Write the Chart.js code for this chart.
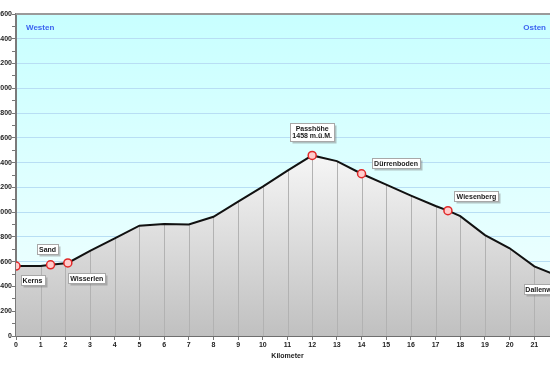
<!DOCTYPE html>
<html><head><meta charset="utf-8">
<script src="https://cdn.jsdelivr.net/npm/chart.js@4/dist/chart.umd.min.js"></script>
<style>
html,body{margin:0;padding:0;overflow:hidden;background:#fff;width:550px;height:372px}
#wrap{position:absolute;left:-20px;top:0;width:600px;height:372px}
</style>
</head><body><div id="wrap"><canvas id="c" width="600" height="372"></canvas></div>
<script>
// ---- data ----
const profileKm   = [0, 1, 1.4, 2.1, 3, 4, 5, 6, 7, 8, 9, 10, 11, 12, 13, 14, 15, 16, 17, 17.5, 18, 19, 20, 21, 22];
const profileElev = [565, 565, 575, 590, 688, 789, 891, 905, 900, 963, 1085, 1206, 1335, 1458, 1412, 1310, 1222, 1134, 1050, 1012, 968, 815, 708, 562, 482];
const waypointNames = [['Kerns'], ['Sand'], ['Wisserlen'], ['Passhöhe', '1458 m.ü.M.'], ['Dürrenboden'], ['Wiesenberg'], ['Dallenwil']];
const waypointKm    = [0, 1.4, 2.1, 12, 14, 17.5, 22];
const waypointElev  = [565, 575, 590, 1458, 1310, 1012, 482];
const directionLabels = ['Westen', 'Osten'];
const xAxisTitle = 'Kilometer';
const yMin = 0, yMax = 2600, yLabelStep = 200, yMinorStep = 100;
const xMin = 0, xMax = 22, xStep = 1;

// ---- layout / style (not data) ----
const labelOffsets = [[16.5, 14], [-3, -15.5], [19, 15], [0, -23.5], [34.5, -10.5], [28.5, -14.5], [-18.5, 12.5]];
const FONT = '"Liberation Sans", Arial, sans-serif';

const profilePts = profileKm.map((k, i) => ({x: k, y: profileElev[i]}));
const wayPts = waypointKm.map((k, i) => ({x: k, y: waypointElev[i]}));

const skyPlugin = {
  id: 'sky',
  beforeDraw(chart) {
    const {ctx, chartArea: a} = chart;
    const g = ctx.createLinearGradient(0, a.top, 0, a.bottom);
    g.addColorStop(0, '#c8ffff');
    g.addColorStop(1, '#f4ffff');
    ctx.save();
    ctx.fillStyle = g;
    ctx.fillRect(a.left, a.top, a.right - a.left, a.bottom - a.top);
    ctx.restore();
  },
  beforeDatasetDraw(chart, args) {
    if (args.index !== 1) return;
    const {ctx, chartArea: a, scales} = chart;
    const pts = chart.getDatasetMeta(0).data;
    ctx.save();
    ctx.beginPath();
    ctx.moveTo(pts[0].x, a.bottom);
    pts.forEach(p => ctx.lineTo(p.x, p.y));
    ctx.lineTo(pts[pts.length - 1].x, a.bottom);
    ctx.closePath();
    ctx.clip();
    ctx.strokeStyle = '#b2b2b2';
    ctx.lineWidth = 1;
    for (let k = xMin + xStep; k <= xMax; k += xStep) {
      const x = Math.round(scales.x.getPixelForValue(k)) + 0.5;
      ctx.beginPath();
      ctx.moveTo(x, a.top);
      ctx.lineTo(x, a.bottom);
      ctx.stroke();
    }
    ctx.restore();
  },
  afterDraw(chart) {
    const {ctx, chartArea: a} = chart;
    ctx.save();
    // top border
    ctx.strokeStyle = '#9a9a9a';
    ctx.lineWidth = 2;
    ctx.beginPath();
    ctx.moveTo(a.left, a.top);
    ctx.lineTo(a.right, a.top);
    ctx.stroke();
    // direction labels
    ctx.font = 'bold 8px ' + FONT;
    ctx.fillStyle = '#3c64f0';
    ctx.textBaseline = 'middle';
    ctx.textAlign = 'left';
    ctx.fillText(directionLabels[0], a.left + 10, a.top + 14);
    ctx.textAlign = 'right';
    ctx.fillText(directionLabels[1], a.right - 13, a.top + 14);
    // waypoint labels
    const meta = chart.getDatasetMeta(2);
    ctx.font = 'bold 7px ' + FONT;
    ctx.textAlign = 'center';
    meta.data.forEach((p, i) => {
      const lines = waypointNames[i];
      const cx = p.x + labelOffsets[i][0];
      const cy = p.y + labelOffsets[i][1];
      const lh = 7.5;
      const w = Math.round(Math.max(...lines.map(l => ctx.measureText(l).width)) + 4);
      const h = Math.round(lines.length * lh + 2.5);
      const x0 = Math.round(cx - w / 2) + 0.5, y0 = Math.round(cy - h / 2) + 0.5;
      ctx.fillStyle = 'rgba(120,120,120,0.45)';
      ctx.fillRect(x0 + 2, y0 + 2, w, h);
      ctx.fillStyle = '#ffffff';
      ctx.fillRect(x0, y0, w, h);
      ctx.strokeStyle = '#a8a8a8';
      ctx.lineWidth = 1;
      ctx.strokeRect(x0, y0, w, h);
      ctx.fillStyle = '#1a1a1a';
      lines.forEach((l, j) => {
        ctx.fillText(l, cx, y0 + 1.5 + lh / 2 + j * lh);
      });
    });
    ctx.restore();
  }
};

new Chart(document.getElementById('c'), {
  type: 'line',
  data: {
    datasets: [
      {
        data: profilePts,
        borderWidth: 0,
        pointRadius: 0,
        fill: 'origin',
        order: 3,
        backgroundColor: (c) => {
          const a = c.chart.chartArea;
          if (!a) return '#dddddd';
          const g = c.chart.ctx.createLinearGradient(0, a.top + 110, 0, a.bottom);
          g.addColorStop(0, '#ffffff');
          g.addColorStop(1, '#c0c0c0');
          return g;
        }
      },
      {
        data: profilePts,
        borderColor: '#111111',
        borderWidth: 2,
        pointRadius: 0,
        fill: false,
        tension: 0,
        order: 2
      },
      {
        data: wayPts,
        showLine: false,
        pointRadius: 4,
        pointHoverRadius: 4,
        pointBackgroundColor: '#ffcccc',
        pointBorderColor: '#e02828',
        pointBorderWidth: 1.5,
        order: 1
      }
    ]
  },
  options: {
    responsive: false,
    animation: false,
    devicePixelRatio: 1,
    layout: {padding: {top: 14, right: 21, bottom: 0, left: 0}},
    plugins: {legend: {display: false}, tooltip: {enabled: false}},
    scales: {
      x: {
        type: 'linear',
        min: xMin, max: xMax,
        afterFit(s) { s.height = 36; },
        ticks: {stepSize: xStep, color: '#222', font: {family: FONT, size: 7, weight: 'bold'}, padding: 1, maxRotation: 0, autoSkip: false},
        grid: {drawOnChartArea: false, tickLength: 4, tickColor: '#777'},
        border: {color: '#6e6e6e', width: 2},
        title: {display: true, text: xAxisTitle, color: '#222', font: {family: FONT, size: 7, weight: 'bold'}, padding: {top: 0, bottom: 12}}
      },
      y: {
        min: yMin, max: yMax,
        afterFit(s) { s.width = 36; },
        ticks: {
          stepSize: yMinorStep,
          autoSkip: false,
          color: '#222',
          padding: 0,
          font: {family: FONT, size: 7, weight: 'bold'},
          callback: (v) => (v % yLabelStep === 0 ? String(v) : '')
        },
        grid: {
          tickLength: 4,
          color: (c) => (c.tick && c.tick.value % yLabelStep === 0 ? '#b8def4' : 'rgba(0,0,0,0)'),
          tickColor: '#777',
          lineWidth: 1
        },
        border: {color: '#7a7a7a', width: 2}
      }
    }
  },
  plugins: [skyPlugin]
});
</script>
</body></html>
